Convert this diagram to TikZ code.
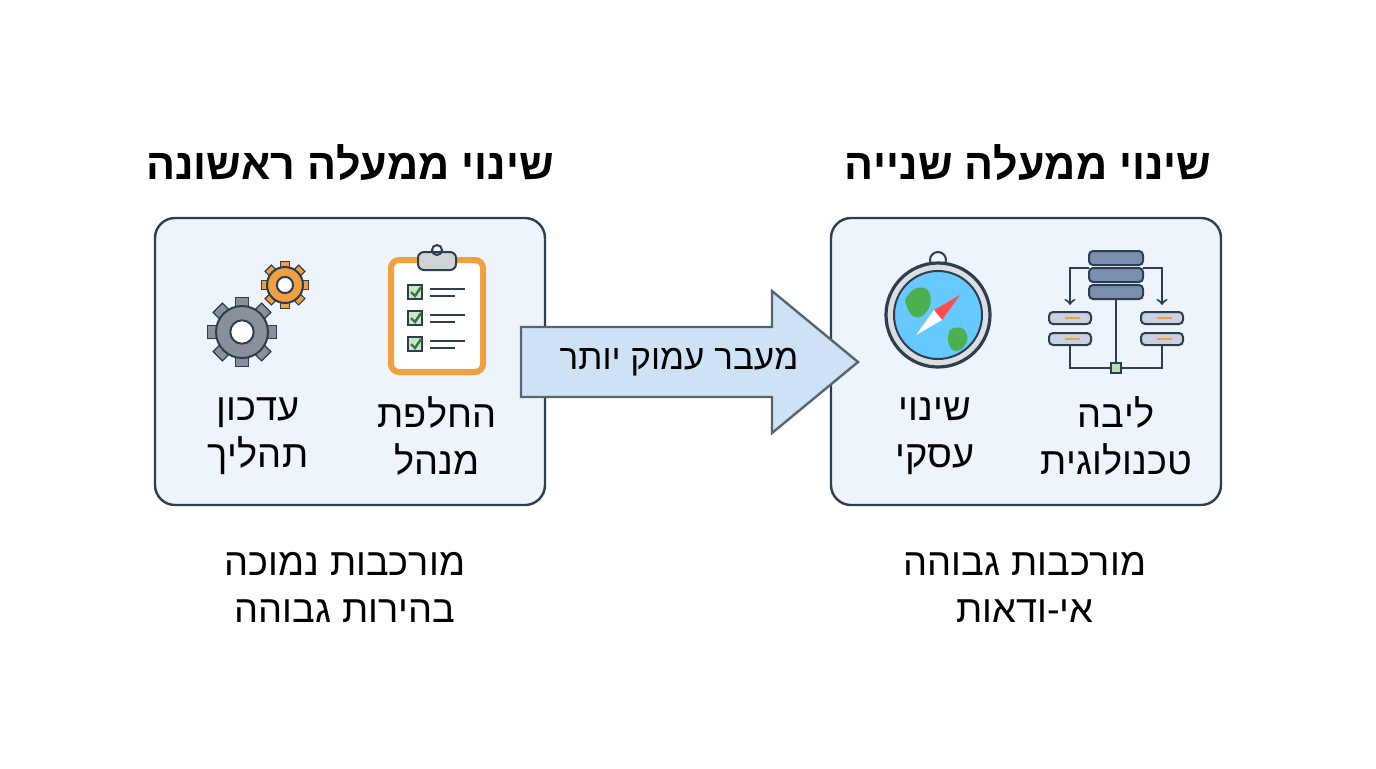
\documentclass[tikz,border=0pt]{standalone}
\usepackage{fontspec}
\setmainfont{Liberation Sans}
\TeXXeTstate=1
\newcommand{\heb}[1]{\beginR #1\endR}
\usetikzlibrary{positioning}
\definecolor{edge}{HTML}{2D3E50}
\definecolor{panel}{HTML}{EEF4FB}
\definecolor{arrowfill}{HTML}{CFE2F5}
\definecolor{orng}{HTML}{F0A040}
\definecolor{gry}{HTML}{8A9099}
\definecolor{grn}{HTML}{4CAF50}
\definecolor{srv}{HTML}{7A8FB0}
\tikzset{
  panelbox/.style={draw=edge, line width=1.2pt, fill=panel, rounded corners=10pt},
  title/.style={font=\bfseries\fontsize{21.5}{26}\selectfont},
  label/.style={font=\fontsize{19}{23.5}\selectfont, align=center},
  icon/.style={draw=edge, line width=1pt}
}
\begin{document}
\begin{tikzpicture}[x=0.5pt, y=-0.5pt]
\useasboundingbox[fill=white] (0,0) rectangle (1376,768);
% panels
\draw[panelbox] (155,218) rectangle (545,505);
\draw[panelbox] (831,218) rectangle (1221,505);
% titles
\node[title] (t1) at (350,163) {\heb{שינוי ממעלה ראשונה}};
\node[title] (t2) at (1028,163) {\heb{שינוי ממעלה שנייה}};
% arrow
\draw[draw=edge!80, line width=1.2pt, fill=arrowfill, line join=miter]
  (521,327) -- (772,327) -- (772,291) -- (858,362) -- (772,433) -- (772,397) -- (521,397) -- cycle;
\node[label, font=\fontsize{17.5}{21}\selectfont] (shift) at (679,362) {\heb{מעבר עמוק יותר}};
% gears
\foreach \cx/\cy/\r/\col in {242/332/26/gry, 285/285/18/orng} {
  \foreach \a in {0,45,...,315}
    \fill[\col, draw=edge, line width=0.6pt, rotate around={\a:(\cx,\cy)}] (\cx-0.25*\r,\cy-\r*1.32) rectangle (\cx+0.25*\r,\cy-\r*0.9);
  \draw[icon, fill=\col] (\cx,\cy) circle[radius=\r];
  \draw[icon, fill=white] (\cx,\cy) circle[radius=0.45*\r];
}
% clipboard
\draw[icon, fill=white, rounded corners=4pt, draw=orng, line width=3pt] (391,260) rectangle (483,372);
\draw[icon, fill=gry!40, rounded corners=3pt] (418,252) rectangle (456,270);
\draw[icon] (437,250) circle[radius=5];
\foreach \y in {292,318,344} {
  \draw[icon, fill=grn!30] (408,\y-7) rectangle (422,\y+7);
  \draw[grn!70!black, line width=1.2pt] (411,\y) -- (415,\y+4) -- (421,\y-5);
  \draw[icon] (430,\y-3) -- (465,\y-3);
  \draw[icon] (430,\y+4) -- (455,\y+4);
}
% compass
\draw[icon] (938,260) circle[radius=8];
\draw[icon, fill=gry!30, line width=1.6pt] (938,315) circle[radius=52];
\fill[blue!35!cyan!60] (938,315) circle[radius=44];
\fill[grn] (905,300) .. controls (915,280) and (935,285) .. (930,305) .. controls (925,320) and (910,325) .. (905,300);
\fill[grn] (950,330) .. controls (965,320) and (975,340) .. (960,350) .. controls (950,355) and (945,340) .. (950,330);
\fill[red!70] (960,295) -- (942,320) -- (934,310) -- cycle;
\fill[white] (916,335) -- (934,310) -- (942,320) -- cycle;
\draw[icon] (938,315) circle[radius=44];
% servers
\foreach \y in {258,275,292}
  \draw[icon, fill=srv, rounded corners=2pt] (1089,\y-7) rectangle (1143,\y+7);
\foreach \x in {1070,1162} {
  \draw[icon, fill=srv!40, rounded corners=2pt] (\x-21,312) rectangle (\x+21,324);
  \draw[icon, fill=srv!40, rounded corners=2pt] (\x-21,333) rectangle (\x+21,345);
  \draw[orng, line width=1.2pt] (\x-5,318) -- (\x+10,318) (\x-5,339) -- (\x+10,339);
}
\draw[icon, ->] (1089,268) -- (1070,268) -- (1070,305);
\draw[icon, ->] (1143,268) -- (1162,268) -- (1162,305);
\draw[icon] (1116,299) -- (1116,362) (1070,345) -- (1070,368) -- (1162,368) -- (1162,345);
\draw[icon, fill=grn!40] (1111,363) rectangle (1121,373);
% labels
\node[label] (l1) at (437,436) {\heb{החלפת}\\\heb{מנהל}};
\node[label] (l2) at (258,436) {\heb{עדכון}\\\heb{תהליך}};
\node[label] (r1) at (1116,436) {\heb{ליבה}\\\heb{טכנולוגית}};
\node[label] (r2) at (935,436) {\heb{שינוי}\\\heb{עסקי}};
\node[label] (n1) at (345,587) {\heb{מורכבות נמוכה}\\\heb{בהירות גבוהה}};
\node[label] (n2) at (1025,587) {\heb{מורכבות גבוהה}\\\heb{אי-ודאות}};
\end{tikzpicture}
\end{document}
